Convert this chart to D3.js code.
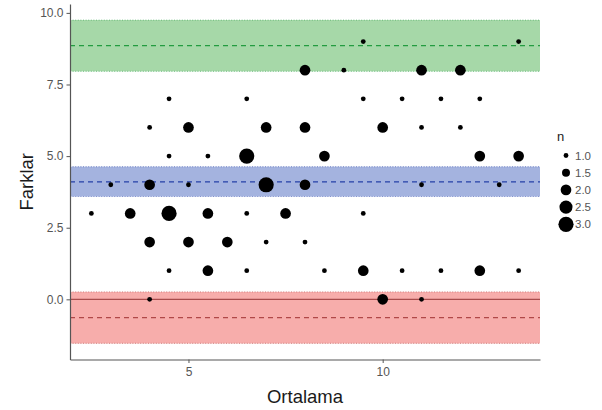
<!DOCTYPE html>
<html>
<head>
<meta charset="utf-8">
<script src="https://cdn.jsdelivr.net/npm/d3@7"></script>
<style>
    body { margin: 0; background: #fff; }
    svg { display: block; font-family: "Liberation Sans", Arial, sans-serif; }
</style>
</head>
<body>
<svg id="chart" width="602" height="410"></svg>
<script>
// points: Ortalama (mean), Farklar (difference), n (count)
const ortalama = [
    9.5, 13.5,
    8, 9, 11, 12,
    4.5, 6.5, 9.5, 10.5, 11.5, 12.5,
    4, 5, 7, 8, 10, 11, 12,
    4.5, 5.5, 6.5, 8.5, 12.5, 13.5,
    3, 4, 5, 7, 8, 11, 13,
    2.5, 3.5, 4.5, 5.5, 6.5, 7.5, 9.5,
    4, 5, 6, 7, 8,
    4.5, 5.5, 6.5, 8.5, 9.5, 10.5, 11.5, 12.5, 13.5,
    4, 10, 11
];
const farklar = [
    9, 9,
    8, 8, 8, 8,
    7, 7, 7, 7, 7, 7,
    6, 6, 6, 6, 6, 6, 6,
    5, 5, 5, 5, 5, 5,
    4, 4, 4, 4, 4, 4, 4,
    3, 3, 3, 3, 3, 3, 3,
    2, 2, 2, 2, 2,
    1, 1, 1, 1, 1, 1, 1, 1, 1,
    0, 0, 0
];
const counts = [
    1, 1,
    2, 1, 2, 2,
    1, 1, 1, 1, 1, 1,
    1, 2, 2, 2, 2, 1, 1,
    1, 1, 3, 2, 2, 2,
    1, 2, 1, 3, 2, 1, 1,
    1, 2, 3, 2, 1, 2, 1,
    2, 2, 2, 1, 1,
    1, 2, 1, 1, 2, 1, 1, 2, 1,
    1, 2, 1
];

// limits of agreement: lower, mean, upper with their confidence bands
const lineNames = ['lower', 'mean', 'upper'];
const lineValues = [-0.64, 4.10, 8.86];
const bandLow = [-1.54, 3.59, 7.96];
const bandHigh = [0.26, 4.63, 9.75];
const bandFill = ['#f7adab', '#a4b3df', '#a6d8a8'];
const lineColor = ['#b04848', '#2440a8', '#239c40'];

const xTicks = [5, 10];
const yTicks = [0, 2.5, 5, 7.5, 10];
const legendN = [1.0, 1.5, 2.0, 2.5, 3.0];

const svg = d3.select('#chart');
const margin = { top: 4, right: 62, bottom: 50.5, left: 70 };
const width = +svg.attr('width');
const height = +svg.attr('height');

const xScale = d3.scaleLinear()
    .domain([1.95, 14.05])
    .range([margin.left, width - margin.right]);
const yScale = d3.scaleLinear()
    .domain([-2.10, 10.31])
    .range([height - margin.bottom, margin.top]);
// size scale works on sqrt(n) like ggplot's area palette
const rScale = d3.scaleLinear()
    .domain([1, Math.sqrt(3)])
    .range([2.4, 7.6]);
const radius = (n) => rScale(Math.sqrt(n));

const x0 = xScale.range()[0];
const x1 = xScale.range()[1];

// bands
const bands = svg.append('g');
lineNames.forEach((name, i) => {
    bands.append('rect')
        .attr('x', x0)
        .attr('width', x1 - x0)
        .attr('y', yScale(bandHigh[i]))
        .attr('height', yScale(bandLow[i]) - yScale(bandHigh[i]))
        .attr('fill', bandFill[i]);
    [bandLow[i], bandHigh[i]].forEach((v) => {
        bands.append('line')
            .attr('x1', x0).attr('x2', x1)
            .attr('y1', yScale(v)).attr('y2', yScale(v))
            .attr('stroke', lineColor[i])
            .attr('stroke-opacity', 0.45)
            .attr('stroke-width', 1.2)
            .attr('stroke-dasharray', '1,1.6');
    });
});

// zero line
svg.append('line')
    .attr('x1', x0).attr('x2', x1)
    .attr('y1', yScale(0)).attr('y2', yScale(0))
    .attr('stroke', '#a84c4c')
    .attr('stroke-width', 1.3);

// dashed limit lines
lineNames.forEach((name, i) => {
    svg.append('line')
        .attr('x1', x0).attr('x2', x1)
        .attr('y1', yScale(lineValues[i])).attr('y2', yScale(lineValues[i]))
        .attr('stroke', lineColor[i])
        .attr('stroke-width', 1.3)
        .attr('stroke-dasharray', '5,4');
});

// points
svg.append('g')
    .selectAll('circle')
    .data(d3.range(ortalama.length))
    .join('circle')
    .attr('cx', (i) => xScale(ortalama[i]))
    .attr('cy', (i) => yScale(farklar[i]))
    .attr('r', (i) => radius(counts[i]))
    .attr('fill', '#000');

// axes
const xAxis = svg.append('g')
    .attr('transform', `translate(0,${height - margin.bottom})`)
    .call(d3.axisBottom(xScale).tickValues(xTicks).tickSize(3.5).tickPadding(4).tickSizeOuter(0));
const yAxis = svg.append('g')
    .attr('transform', `translate(${margin.left},0)`)
    .call(d3.axisLeft(yScale).tickValues(yTicks).tickFormat(d3.format('.1f')).tickSize(3.5).tickPadding(3).tickSizeOuter(0));

[xAxis, yAxis].forEach((ax) => {
    ax.select('.domain').attr('stroke', '#555').attr('stroke-width', 1.2);
    ax.selectAll('.tick line').attr('stroke', '#555');
    ax.selectAll('.tick text').attr('fill', '#555').style('font-size', '12px');
});

// axis titles
svg.append('text')
    .attr('x', (x0 + x1) / 2)
    .attr('y', 403)
    .attr('text-anchor', 'middle')
    .attr('fill', '#1a1a1a')
    .style('font-size', '18.5px')
    .text('Ortalama');
svg.append('text')
    .attr('transform', `translate(33,${(margin.top + height - margin.bottom) / 2}) rotate(-90)`)
    .attr('text-anchor', 'middle')
    .attr('fill', '#1a1a1a')
    .style('font-size', '18.5px')
    .text('Farklar');

// legend
const legend = svg.append('g').attr('transform', 'translate(557,0)');
legend.append('text')
    .attr('x', 0)
    .attr('y', 141)
    .attr('fill', '#1a1a1a')
    .style('font-size', '13px')
    .text('n');
legendN.forEach((n, i) => {
    const cy = 155.5 + i * 17.2;
    legend.append('circle')
        .attr('cx', 9)
        .attr('cy', cy)
        .attr('r', radius(n))
        .attr('fill', '#000');
    legend.append('text')
        .attr('x', 18)
        .attr('y', cy)
        .attr('dy', '0.35em')
        .attr('fill', '#555')
        .style('font-size', '11.5px')
        .text(d3.format('.1f')(n));
});
</script>
</body>
</html>
